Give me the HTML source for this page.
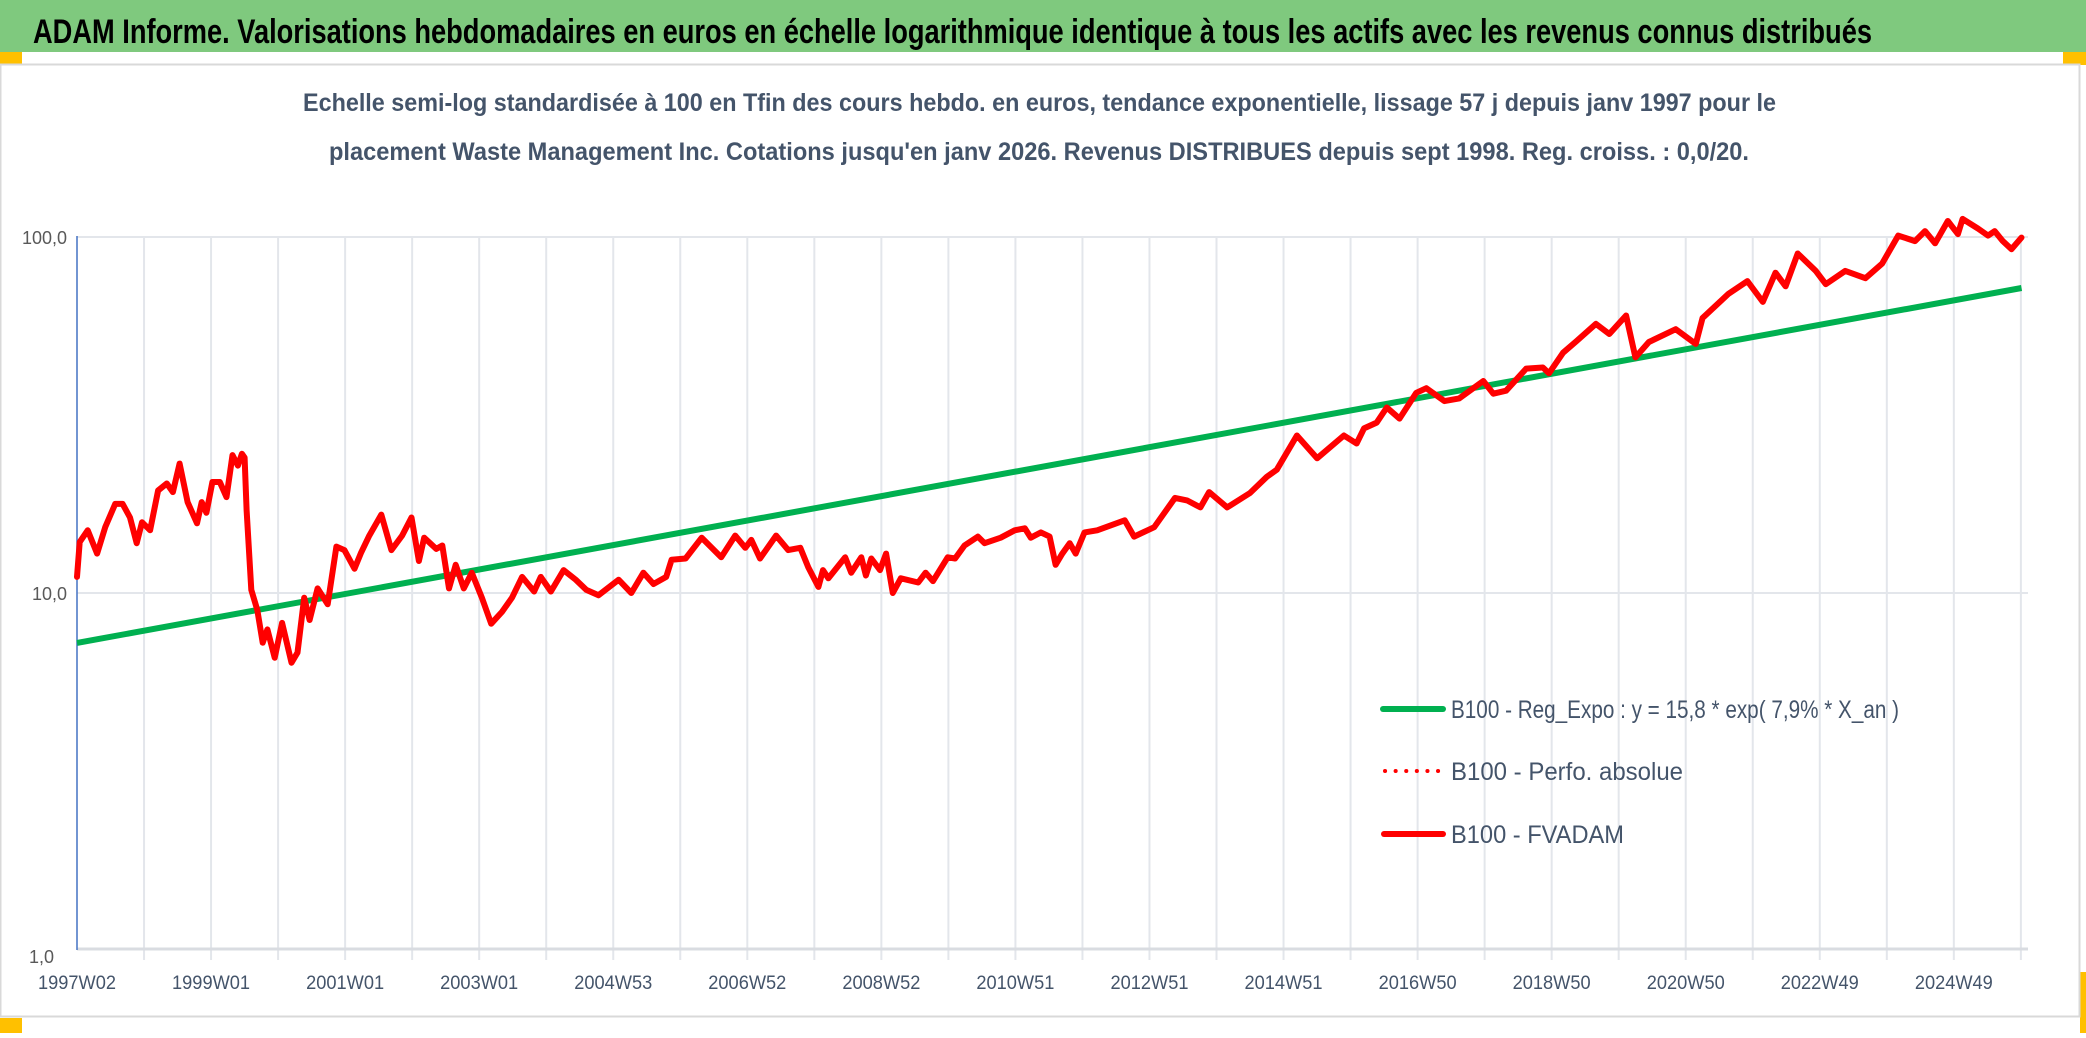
<!DOCTYPE html>
<html><head><meta charset="utf-8">
<style>
html,body{margin:0;padding:0;background:#fff;}
body{width:2086px;height:1033px;overflow:hidden;font-family:"Liberation Sans",sans-serif;}
</style></head>
<body>
<svg id="chart" width="2086" height="1033" viewBox="0 0 2086 1033" xmlns="http://www.w3.org/2000/svg">
  <rect x="0" y="0" width="2086" height="52" fill="#7fc97e"/>
  <text x="33" y="43" font-size="34" font-weight="bold" fill="#000" textLength="1839" lengthAdjust="spacingAndGlyphs" font-family="Liberation Sans, sans-serif">ADAM Informe. Valorisations hebdomadaires en euros en échelle logarithmique identique à tous les actifs avec les revenus connus distribués</text>
  <rect x="0" y="52" width="22" height="12" fill="#ffc000"/>
  <rect x="2063" y="52" width="23" height="13" fill="#ffc000"/>
  <rect x="0" y="1018" width="22" height="15" fill="#ffc000"/>
  <rect x="2080" y="972" width="6" height="61" fill="#ffc000"/>
  <rect x="0.5" y="64.5" width="2079" height="952" fill="#fff" stroke="#d9d9d9" stroke-width="2"/>
  <text x="303" y="111" font-size="25" font-weight="bold" fill="#44546a" textLength="1473" lengthAdjust="spacingAndGlyphs">Echelle semi-log standardisée à 100 en Tfin des cours hebdo. en euros, tendance exponentielle, lissage 57 j depuis janv 1997 pour le</text>
  <text x="329" y="160" font-size="25" font-weight="bold" fill="#44546a" textLength="1420" lengthAdjust="spacingAndGlyphs">placement Waste Management Inc. Cotations jusqu'en janv 2026. Revenus DISTRIBUES depuis sept 1998. Reg. croiss. : 0,0/20.</text>
  <g id="grid"></g>
  <g id="axes"></g>
  <g id="series"></g>
  <g id="legend">
    <line x1="1383" y1="709" x2="1443" y2="709" stroke="#00b050" stroke-width="6" stroke-linecap="round"/>
    <text x="1451" y="718" font-size="25" fill="#44546a" textLength="448" lengthAdjust="spacingAndGlyphs">B100 - Reg_Expo : y = 15,8 * exp( 7,9% *  X_an )</text>
    <line x1="1385" y1="771" x2="1443" y2="771" stroke="#ff0000" stroke-width="4" stroke-dasharray="0.1 10.5" stroke-linecap="round"/>
    <text x="1451" y="780" font-size="25" fill="#44546a" textLength="232" lengthAdjust="spacingAndGlyphs">B100 - Perfo. absolue</text>
    <line x1="1384" y1="834" x2="1443" y2="834" stroke="#ff0000" stroke-width="6" stroke-linecap="round"/>
    <text x="1451" y="843" font-size="25" fill="#44546a" textLength="173" lengthAdjust="spacingAndGlyphs">B100 - FVADAM</text>
  </g>
</svg>
<script>
const xTickLabels = ["1997W02","1999W01","2001W01","2003W01","2004W53","2006W52","2008W52","2010W51","2012W51","2014W51","2016W50","2018W50","2020W50","2022W49","2024W49"];
const yTickValues = [1, 10, 100];
const yTickLabels = ["1,0","10,0","100,0"];
const regYears = [1997.02, 2026.03];
const regValues = [7.24, 71.9];
const fvYears = [1997.02,1997.06,1997.18,1997.32,1997.44,1997.59,1997.70,1997.81,1997.91,1997.99,1998.11,1998.23,1998.36,1998.45,1998.55,1998.67,1998.81,1998.88,1998.95,1999.04,1999.15,1999.25,1999.34,1999.42,1999.48,1999.52,1999.55,1999.62,1999.71,1999.79,1999.86,1999.97,2000.08,2000.22,2000.31,2000.41,2000.49,2000.61,2000.76,2000.89,2001.01,2001.16,2001.26,2001.38,2001.56,2001.71,2001.87,2002.01,2002.12,2002.20,2002.38,2002.47,2002.57,2002.67,2002.79,2002.91,2003.06,2003.20,2003.36,2003.51,2003.66,2003.84,2003.94,2004.09,2004.28,2004.46,2004.62,2004.80,2005.10,2005.29,2005.47,2005.62,2005.81,2005.89,2006.10,2006.34,2006.63,2006.84,2006.99,2007.08,2007.21,2007.45,2007.63,2007.81,2007.93,2008.08,2008.15,2008.23,2008.48,2008.57,2008.72,2008.79,2008.87,2009.00,2009.09,2009.19,2009.31,2009.57,2009.68,2009.79,2010.01,2010.12,2010.26,2010.46,2010.56,2010.80,2011.01,2011.16,2011.25,2011.40,2011.53,2011.62,2011.72,2011.83,2011.92,2012.05,2012.24,2012.65,2012.79,2013.09,2013.40,2013.58,2013.78,2013.91,2014.18,2014.52,2014.77,2014.92,2015.22,2015.52,2015.92,2016.11,2016.22,2016.41,2016.56,2016.75,2017.00,2017.15,2017.42,2017.64,2018.00,2018.15,2018.34,2018.64,2018.89,2018.98,2019.19,2019.39,2019.68,2019.88,2020.13,2020.27,2020.47,2020.87,2021.17,2021.27,2021.66,2021.94,2022.17,2022.36,2022.51,2022.69,2022.96,2023.11,2023.40,2023.70,2023.95,2024.19,2024.44,2024.59,2024.74,2024.93,2025.08,2025.15,2025.38,2025.53,2025.63,2025.75,2025.88,2026.03];
const fvValues = [11.1,13.9,15.0,12.9,15.3,17.8,17.8,16.3,13.8,15.8,15.0,19.4,20.3,19.2,23.1,18.0,15.7,18.0,16.8,20.5,20.5,18.6,24.4,22.8,24.6,24.0,17.1,10.2,8.96,7.25,7.9,6.58,8.24,6.37,6.8,9.7,8.4,10.3,9.3,13.5,13.2,11.7,13.0,14.5,16.6,13.2,14.5,16.3,12.3,14.3,13.3,13.6,10.3,12.0,10.3,11.4,9.7,8.2,8.85,9.7,11.1,10.1,11.1,10.1,11.6,10.9,10.2,9.85,10.9,10.0,11.4,10.6,11.1,12.4,12.5,14.3,12.6,14.5,13.4,14.1,12.5,14.5,13.2,13.4,11.8,10.4,11.6,11.0,12.6,11.4,12.6,11.2,12.5,11.6,12.9,10.0,11.0,10.7,11.4,10.8,12.6,12.5,13.6,14.4,13.8,14.3,15.0,15.2,14.3,14.8,14.4,12.0,12.9,13.8,12.9,14.8,15.0,16.0,14.4,15.3,18.5,18.2,17.4,19.2,17.4,19.1,21.2,22.2,27.7,23.9,27.7,26.3,29.0,30.1,33.2,30.9,36.5,37.6,34.6,35.2,39.4,36.3,37.0,42.7,43.0,41.4,47.3,51.0,57.0,53.4,60.2,45.9,50.7,55.1,50.1,59.2,69.3,75.2,65.7,79.4,72.7,89.9,80.3,73.7,80.3,76.6,84.2,100.9,97.4,103.9,96.0,110.9,101.9,112.4,105.6,100.9,103.9,97.4,92.4,99.6];

const NS = "http://www.w3.org/2000/svg";
const X0 = 77, PX_PER_YEAR = 67.03, YEAR0 = 1997.02;
const Y_ONE = 949, PX_PER_DECADE = 356;
function xScale(yr){ return X0 + (yr - YEAR0) * PX_PER_YEAR; }
function yScale(v){ return Y_ONE - Math.log10(v) * PX_PER_DECADE; }
function mk(tag, attrs, parent){ const e = document.createElementNS(NS, tag); for (const k in attrs) e.setAttribute(k, attrs[k]); parent.appendChild(e); return e; }

const grid = document.getElementById('grid');
const axes = document.getElementById('axes');
const series = document.getElementById('series');

for (let i = 1; i <= 29; i++) {
  const x = X0 + i * 67.03;
  const g = mk('line', {x1: x, y1: 236, x2: x, y2: 960, stroke: '#e3e6eb', 'stroke-width': 2}, grid);
  
  
}
yTickValues.forEach((v, i) => {
  const y = yScale(v);
  const g = mk('line', {x1: X0, y1: y, x2: 2028, y2: y, stroke: i === 0 ? '#d9dce1' : '#e3e6eb', 'stroke-width': i === 0 ? 3 : 2}, grid);
  
  
  const t = mk('text', {x: i === 0 ? 29 : 67, y: y + (i === 0 ? 14 : 7), 'font-size': 18, fill: '#595959', 'text-anchor': i === 0 ? 'start' : 'end'}, axes);
  t.textContent = yTickLabels[i];
  
  
});
const ax = mk('line', {x1: X0, y1: 236, x2: X0, y2: 950, stroke: '#4472c4', 'stroke-width': 1.5}, axes);


xTickLabels.forEach((lab, i) => {
  const x = X0 + i * 2 * 67.03;
  const t = mk('text', {x: x, y: 989, 'font-size': 19, fill: '#44546a', 'text-anchor': 'middle', textLength: 78, lengthAdjust: 'spacingAndGlyphs'}, axes);
  t.textContent = lab;
  
  
});
const reg = mk('polyline', {points: regYears.map((yr, i) => xScale(yr) + ',' + yScale(regValues[i])).join(' '), fill: 'none', stroke: '#00b050', 'stroke-width': 6}, series);


const fv = mk('polyline', {points: fvYears.map((yr, i) => xScale(yr).toFixed(1) + ',' + yScale(fvValues[i]).toFixed(1)).join(' '), fill: 'none', stroke: '#ff0000', 'stroke-width': 6, 'stroke-linejoin': 'round', 'stroke-linecap': 'round'}, series);


</script>
</body></html>
